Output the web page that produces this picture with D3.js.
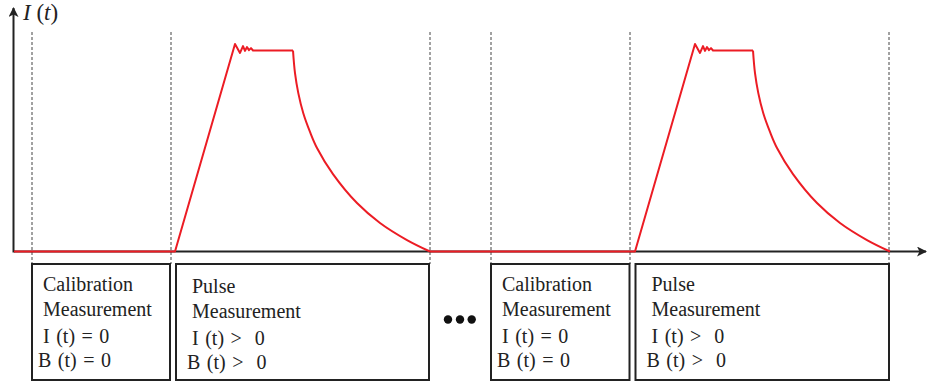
<!DOCTYPE html>
<html>
<head>
<meta charset="utf-8">
<script src="https://cdn.jsdelivr.net/npm/d3@7"></script>
<style>
  body { margin: 0; background: #fff; }
  text { font-family: 'Liberation Serif', 'DejaVu Serif', serif; fill: #222; white-space: pre; }
</style>
</head>
<body>
<div class="main"></div>
<script>
const w = 929;
const h = 387;

// pulse shape, time relative to pulse start (a.u.) and current (peak plateau = 1)
const riseTimes = [0, 60, 65, 68, 70, 72, 74, 76, 78, 118];
const riseCurrent = [0, 1.032, 0.988, 1.022, 0.998, 1.017, 1.002, 1.012, 1.0, 1.0];
const decayTimes = [118, 120, 123.3, 128.3, 135, 142, 158, 182, 205, 232, 255];
const decayCurrent = [1.0, 0.887, 0.788, 0.688, 0.595, 0.515, 0.385, 0.241, 0.142, 0.057, 0];
const pulseStarts = [161, 621];

// measurement windows
const dashTimes = [18, 157, 416, 477, 616, 875];
const boxStart = [18, 162, 477, 621.5];
const boxEnd = [156, 415, 615.5, 875];
const boxLines = [
  ['Calibration', 'Measurement', 'I (t) = 0', 'B (t) = 0'],
  ['Pulse', 'Measurement', 'I (t) >  0', 'B (t) >  0'],
  ['Calibration', 'Measurement', 'I (t) = 0', 'B (t) = 0'],
  ['Pulse', 'Measurement', 'I (t) >  0', 'B (t) >  0']
];

const x = d3.scaleLinear().domain([0, 912]).range([14, 926]);
const y = d3.scaleLinear().domain([0, 1]).range([251.5, 50.5]);

const svg = d3.select('.main').append('svg').attr('width', w).attr('height', h);

const defs = svg.append('defs');
defs.append('marker')
  .attr('id', 'arrow')
  .attr('viewBox', '0 0 10 10')
  .attr('refX', 9)
  .attr('refY', 5)
  .attr('markerWidth', 10)
  .attr('markerHeight', 10)
  .attr('markerUnits', 'userSpaceOnUse')
  .attr('orient', 'auto')
  .append('path')
  .attr('d', 'M0,0 L10,5 L0,10 L2.5,5 Z')
  .attr('fill', '#222');

// dashed separators
svg.append('g').selectAll('line')
  .data(dashTimes)
  .enter()
  .append('line')
  .attr('x1', (d) => x(d))
  .attr('x2', (d) => x(d))
  .attr('y1', 32)
  .attr('y2', 264)
  .attr('stroke', '#444')
  .attr('stroke-width', 1)
  .attr('stroke-dasharray', '3,2');

// axes
svg.append('line')
  .attr('x1', x(0)).attr('y1', y(0))
  .attr('x2', x(912)).attr('y2', y(0))
  .attr('stroke', '#222').attr('stroke-width', 2)
  .attr('marker-end', 'url(#arrow)');
svg.append('line')
  .attr('x1', x(0) - 0.5).attr('y1', y(0) + 1)
  .attr('x2', x(0) - 0.5).attr('y2', 8)
  .attr('stroke', '#222').attr('stroke-width', 2)
  .attr('marker-end', 'url(#arrow)');

const yLabel = svg.append('text').attr('x', 23).attr('y', 20).attr('font-size', 23);
yLabel.append('tspan').attr('font-style', 'italic').text('I');
yLabel.append('tspan').text(' (');
yLabel.append('tspan').attr('font-style', 'italic').text('t');
yLabel.append('tspan').text(')');

// current trace
const line = d3.line().x((d) => x(d[0])).y((d) => y(d[1]));
const smooth = d3.line().x((d) => x(d[0])).y((d) => y(d[1])).curve(d3.curveCatmullRom.alpha(0.5));

pulseStarts.forEach(function (t0, k) {
  const prevEnd = k === 0 ? 0 : pulseStarts[k - 1] + decayTimes[decayTimes.length - 1];
  svg.append('path')
    .attr('d', line([[prevEnd, 0], [t0, 0]].concat(riseTimes.map((t, i) => [t0 + t, riseCurrent[i]]))))
    .attr('fill', 'none').attr('stroke', '#ec1c24').attr('stroke-width', 2).attr('stroke-linejoin', 'round');
  svg.append('path')
    .attr('d', smooth(decayTimes.map((t, i) => [t0 + t, decayCurrent[i]])))
    .attr('fill', 'none').attr('stroke', '#ec1c24').attr('stroke-width', 2);
});

// measurement boxes
const boxTop = 264;
const boxBottom = 380;
const boxes = svg.append('g').selectAll('g')
  .data(boxLines)
  .enter()
  .append('g');

boxes.append('rect')
  .attr('x', (d, i) => x(boxStart[i]))
  .attr('y', boxTop)
  .attr('width', (d, i) => x(boxEnd[i]) - x(boxStart[i]))
  .attr('height', boxBottom - boxTop)
  .attr('fill', 'none')
  .attr('stroke', '#222')
  .attr('stroke-width', 2);

const lineY = [291, 316, 343, 367];
const lineDx = [11, 11, 11, 6];
boxes.each(function (d, i) {
  const shift = i === 1 ? 2 : 0;
  d3.select(this).selectAll('text')
    .data(d)
    .enter()
    .append('text')
    .attr('x', (s, j) => x(boxStart[i]) + lineDx[j] + (i % 2 === 1 ? 5 : 0))
    .attr('y', (s, j) => lineY[j] + shift)
    .attr('font-size', 20)
    .attr('word-spacing', (s, j) => (j >= 2 ? 1.5 : 0))
    .text((s) => s);
});

// ellipsis between cycles
svg.append('g').selectAll('circle')
  .data([434, 446, 457.7])
  .enter()
  .append('circle')
  .attr('cx', (d) => x(d))
  .attr('cy', 319.5)
  .attr('r', 4.2)
  .attr('fill', '#111');
</script>
</body>
</html>
